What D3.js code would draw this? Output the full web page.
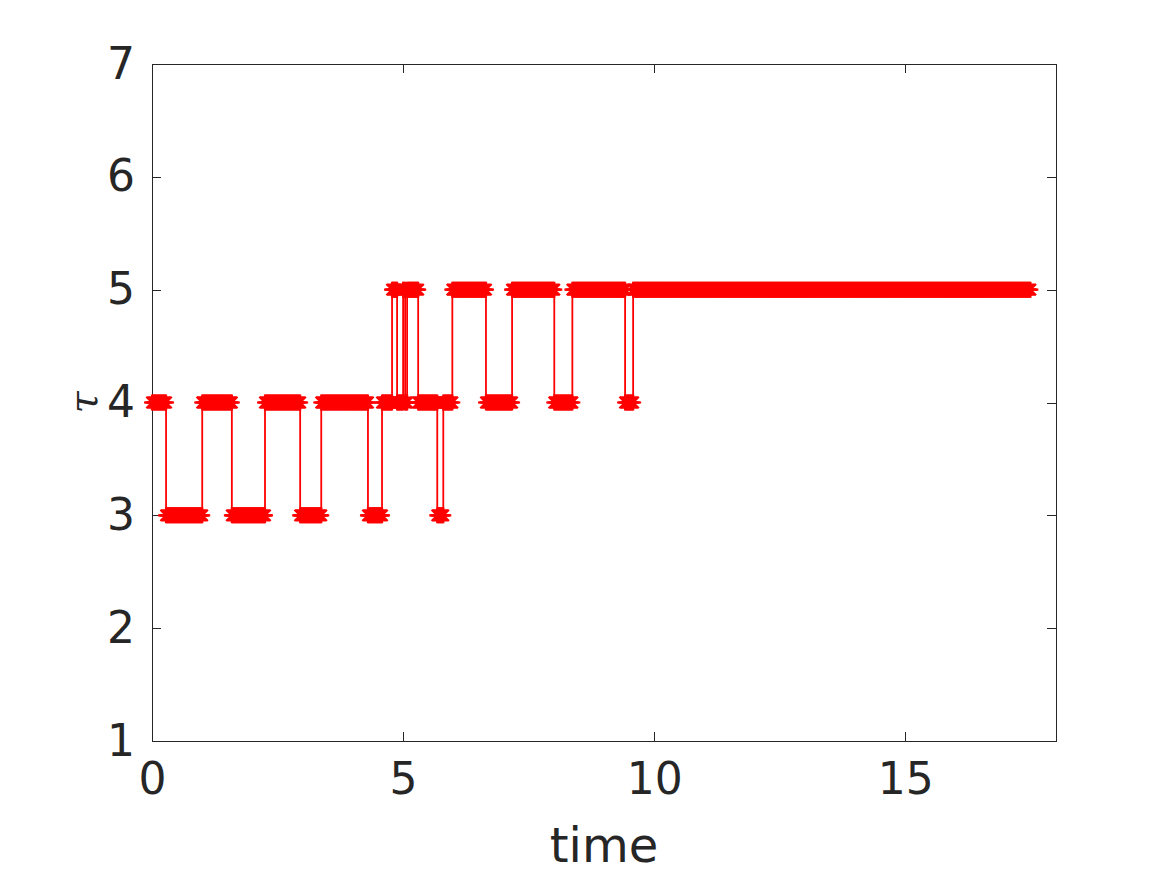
<!DOCTYPE html>
<html>
<head>
<meta charset="utf-8">
<script src="https://cdn.jsdelivr.net/npm/d3@7"></script>
<style>
  html, body { margin: 0; padding: 0; background: #fff; }
  svg { display: block; }
</style>
</head>
<body>
<svg id="chart" width="1167" height="875"></svg>
<script>
// ---- data ----
// piecewise-constant tau(t): each segment [start, end] at a level
const segStart = [0.00, 0.28, 1.00, 1.59, 2.25, 2.95, 3.37, 4.30, 4.58, 4.78, 4.88, 5.00, 5.04, 5.08, 5.30, 5.68, 5.80, 5.98, 6.65, 7.17, 8.01, 8.37, 9.42, 9.58];
const segEnd   = [0.28, 1.00, 1.59, 2.25, 2.95, 3.37, 4.30, 4.58, 4.78, 4.88, 5.00, 5.04, 5.08, 5.30, 5.68, 5.80, 5.98, 6.65, 7.17, 8.01, 8.37, 9.42, 9.58, 17.49];
const segTau   = [4, 3, 4, 3, 4, 3, 4, 3, 4, 5, 4, 5, 4, 5, 4, 3, 4, 5, 4, 5, 4, 5, 4, 5];
const sampleStep = 0.02;           // spacing of the recorded time samples
const xTicks = [0, 5, 10, 15];
const yTicks = [1, 2, 3, 4, 5, 6, 7];
const xDomain = [0, 18];
const yDomain = [1, 7];
const xLabel = "time";
const yLabel = "τ";

// build sample points from segments
const points = [];
segStart.forEach((s, i) => {
  const e = segEnd[i];
  const n = Math.max(1, Math.round((e - s) / sampleStep));
  for (let k = 0; k <= n; k++) {
    points.push({ t: s + (e - s) * k / n, v: segTau[i] });
  }
});

// ---- layout ----
const svg = d3.select("#chart");
const L = 152, R = 1056, T = 64, B = 741;
const ink = "#262626";
const x = d3.scaleLinear().domain(xDomain).range([L, R]);
const y = d3.scaleLinear().domain(yDomain).range([B, T]);
const tickLen = 9;
const font = "'DejaVu Sans', sans-serif";

// axes box
svg.append("rect").attr("x", L).attr("y", T).attr("width", R - L).attr("height", B - T)
  .attr("fill", "#fff").attr("stroke", ink).attr("stroke-width", 1).attr("shape-rendering", "crispEdges");

// bottom axis
const xAxis = d3.axisBottom(x).tickValues(xTicks).tickSizeInner(-tickLen).tickSizeOuter(0).tickPadding(22).tickFormat(d3.format("d"));
const gx = svg.append("g").attr("transform", `translate(0,${B})`).call(xAxis);
gx.select(".domain").remove();
gx.selectAll("line").attr("stroke", ink).attr("shape-rendering", "crispEdges");
gx.selectAll("text").attr("fill", ink).style("font-family", font).style("font-size", "44px");

// top ticks
const xAxisTop = d3.axisTop(x).tickValues(xTicks).tickSizeInner(-tickLen).tickSizeOuter(0).tickFormat("");
const gxt = svg.append("g").attr("transform", `translate(0,${T})`).call(xAxisTop);
gxt.select(".domain").remove();
gxt.selectAll("line").attr("stroke", ink).attr("shape-rendering", "crispEdges");

// left axis
const yAxis = d3.axisLeft(y).tickValues(yTicks).tickSizeInner(-tickLen).tickSizeOuter(0).tickPadding(17).tickFormat(d3.format("d"));
const gy = svg.append("g").attr("transform", `translate(${L},0)`).call(yAxis);
gy.select(".domain").remove();
gy.selectAll("line").attr("stroke", ink).attr("shape-rendering", "crispEdges");
gy.selectAll("text").attr("fill", ink).style("font-family", font).style("font-size", "44px");

// right ticks
const yAxisRight = d3.axisRight(y).tickValues(yTicks).tickSizeInner(-tickLen).tickSizeOuter(0).tickFormat("");
const gyr = svg.append("g").attr("transform", `translate(${R},0)`).call(yAxisRight);
gyr.select(".domain").remove();
gyr.selectAll("line").attr("stroke", ink).attr("shape-rendering", "crispEdges");

// axis labels
svg.append("text").attr("x", (L + R) / 2).attr("y", 862).attr("text-anchor", "middle")
  .attr("fill", ink).style("font-family", font).style("font-size", "48px").text(xLabel);
svg.append("text").attr("transform", `translate(97,${y(4)}) rotate(-90)`).attr("text-anchor", "middle")
  .attr("fill", ink).style("font-family", "'DejaVu Serif', serif").style("font-style", "italic")
  .style("font-size", "40px").text(yLabel);

// ---- data marks ----
const plot = svg.append("g");
const line = d3.line().x(d => x(d.t)).y(d => y(d.v));
plot.append("path").datum(points).attr("d", line)
  .attr("fill", "none").attr("stroke", "#ff0000").attr("stroke-width", 1.8);

const r = 8, dd = r * 0.7071;
const star = `M${-r},0H${r}M0,${-r}V${r}M${-dd},${-dd}L${dd},${dd}M${-dd},${dd}L${dd},${-dd}`;
plot.selectAll("path.mk").data(points).join("path").attr("class", "mk")
  .attr("transform", d => `translate(${x(d.t)},${y(d.v)})`)
  .attr("d", star).attr("fill", "none").attr("stroke", "#ff0000").attr("stroke-width", 2.2);
</script>
</body>
</html>
